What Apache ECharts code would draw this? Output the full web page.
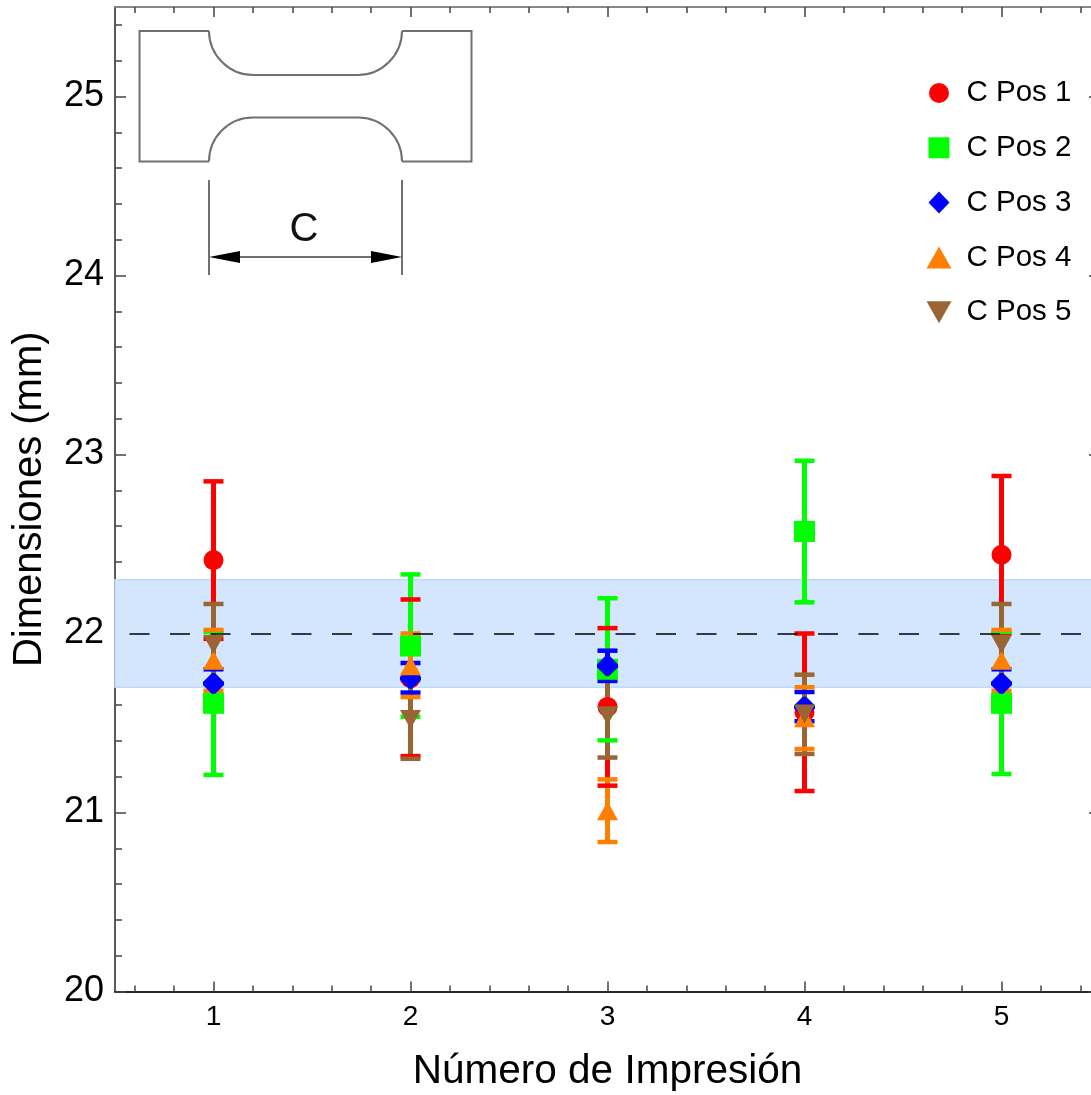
<!DOCTYPE html>
<html>
<head>
<meta charset="utf-8">
<style>
  html, body { margin: 0; padding: 0; background: #fff; overflow: hidden; }
  #chart { width: 1091px; height: 1095px; }
</style>
<script src="https://cdn.jsdelivr.net/npm/echarts@6/dist/echarts.min.js"></script>
</head>
<body>
<div id="chart"></div>
<script>
const prints = [1, 2, 3, 4, 5];
const names = ['C Pos 1', 'C Pos 2', 'C Pos 3', 'C Pos 4', 'C Pos 5'];
const colors = ['#ff0000', '#00ff00', '#0000ff', '#ff8000', '#996633'];

const pos1 = [22.41, 21.75, 21.59, 21.56, 22.44];
const pos1Low = [21.97, 21.315, 21.15, 21.12, 22.0];
const pos1High = [22.85, 22.19, 22.03, 22.0, 22.88];

const pos2 = [21.61, 21.93, 21.8, 22.57, 21.61];
const pos2Low = [21.21, 21.535, 21.403, 22.174, 21.215];
const pos2High = [22.01, 22.33, 22.197, 22.965, 22.01];

const pos3 = [21.72, 21.75, 21.82, 21.59, 21.72];
const pos3Low = [21.64, 21.67, 21.735, 21.51, 21.64];
const pos3High = [21.8, 21.835, 21.904, 21.673, 21.8];

const pos4 = [21.85, 21.82, 21.01, 21.53, 21.85];
const pos4Low = [21.68, 21.645, 20.835, 21.355, 21.68];
const pos4High = [22.02, 22.0, 21.185, 21.7, 22.02];

const pos5 = [21.94, 21.52, 21.54, 21.55, 21.94];
const pos5Low = [21.72, 21.3, 21.307, 21.327, 21.72];
const pos5High = [22.165, 21.74, 21.77, 21.77, 22.165];

const values = [pos1, pos2, pos3, pos4, pos5];
const lows = [pos1Low, pos2Low, pos3Low, pos4Low, pos5Low];
const highs = [pos1High, pos2High, pos3High, pos4High, pos5High];

const xMajorTicks = [1, 2, 3, 4, 5];
const xMinorTicks = [0.6, 0.8, 1.2, 1.4, 1.6, 1.8, 2.2, 2.4, 2.6, 2.8, 3.2, 3.4, 3.6, 3.8, 4.2, 4.4, 4.6, 4.8, 5.2, 5.4];
const yMajorTicks = [20, 21, 22, 23, 24, 25];
const yMinorTicks = [20.2, 20.4, 20.6, 20.8, 21.2, 21.4, 21.6, 21.8, 22.2, 22.4, 22.6, 22.8, 23.2, 23.4, 23.6, 23.8, 24.2, 24.4, 24.6, 24.8, 25.2, 25.4];

const toleranceBand = [21.7, 22.3];
const nominal = 22;

const FONT = '"Liberation Sans", Arial, sans-serif';
const CAP_HALF = 10;

const TRI_UP = 'path://M10.5 0L21 19L0 19Z';
const TRI_DOWN = 'path://M0 0L21 0L10.5 19Z';
const BLUNT_DIAMOND = 'path://M9 0L12 0L21 9L21 12L12 21L9 21L0 12L0 9Z';
const markers = ['circle', 'rect', BLUNT_DIAMOND, TRI_UP, TRI_DOWN];
const markerSizes = [20, 21, 21, [21, 19], [21, 19]];

// corners keep every legend icon in the same 25x22 box, so the sizes can differ
const BOX = 'M0 0L0 0M25 22L25 22';
const legendIcons = [
    'path://' + BOX + 'M2.5 11A10 10 0 1 1 22.5 11A10 10 0 1 1 2.5 11Z',
    'path://' + BOX + 'M2 0.5L23 0.5L23 21.5L2 21.5Z',
    'path://' + BOX + 'M12.5 0L23 11L12.5 22L2 11Z',
    'path://' + BOX + 'M12.5 0L25 22L0 22Z',
    'path://' + BOX + 'M0 0L25 0L12.5 22Z'
];

const axisLineStyle = (color) => ({ show: true, onZero: false, lineStyle: { color: color, width: 1.6 } });

function xAxis(position, ticks, length, extra) {
    return Object.assign({
        type: 'value', min: 0.5, max: 5.5, position: position, splitLine: { show: false },
        axisLine: axisLineStyle(position === 'bottom' ? '#1a1a1a' : '#808080'),
        axisTick: { show: true, inside: true, length: length, customValues: ticks, lineStyle: { color: '#444', width: 1.5 } },
        axisLabel: { show: false }
    }, extra);
}

function yAxis(position, ticks, length, extra) {
    return Object.assign({
        type: 'value', min: 20, max: 25.5, position: position, splitLine: { show: false },
        axisLine: axisLineStyle('#555'),
        axisTick: { show: true, inside: true, length: length, customValues: ticks, lineStyle: { color: '#444', width: 1.5 } },
        axisLabel: { show: false }
    }, extra);
}

function stemSeries(i) {
    return {
        type: 'custom', name: names[i], z: 3, silent: true,
        data: prints.map((p, k) => [p, lows[i][k], highs[i][k]]),
        renderItem: (params, api) => {
            const a = api.coord([api.value(0), api.value(1)]);
            const b = api.coord([api.value(0), api.value(2)]);
            return { type: 'line', shape: { x1: a[0], y1: a[1], x2: b[0], y2: b[1] },
                style: { stroke: colors[i], lineWidth: 5, fill: null } };
        }
    };
}

function capSeries(i) {
    return {
        type: 'custom', name: names[i], z: 4, silent: true,
        data: prints.map((p, k) => [p, lows[i][k], highs[i][k]]),
        renderItem: (params, api) => {
            const a = api.coord([api.value(0), api.value(1)]);
            const b = api.coord([api.value(0), api.value(2)]);
            const cap = (c) => ({ type: 'line', shape: { x1: c[0] - CAP_HALF, y1: c[1], x2: c[0] + CAP_HALF, y2: c[1] },
                style: { stroke: colors[i], lineWidth: 4.5, fill: null } });
            return { type: 'group', children: [cap(a), cap(b)] };
        }
    };
}

function pointSeries(i) {
    return {
        type: 'scatter', name: names[i], z: 5,
        data: prints.map((p, k) => [p, values[i][k]]),
        symbol: markers[i], symbolSize: markerSizes[i],
        itemStyle: { color: colors[i], opacity: 1 }
    };
}

const series = [{
    type: 'line', data: [], z: 1, silent: true,
    markArea: {
        silent: true,
        itemStyle: { color: '#d3e6fd', borderColor: '#bedafa', borderWidth: 1.5 },
        data: [[{ yAxis: toleranceBand[1] }, { yAxis: toleranceBand[0] }]]
    },
    markLine: {
        silent: true, symbol: 'none', label: { show: false }, animation: false,
        lineStyle: { color: '#000', width: 1.5, type: [20, 20.5], dashOffset: 26 },
        data: [{ yAxis: nominal }]
    }
}];
names.forEach((n, i) => series.push(stemSeries(i)));
names.forEach((n, i) => series.push(capSeries(i)));
names.forEach((n, i) => series.push(pointSeries(i)));

const inkStyle = { stroke: '#707070', lineWidth: 2, fill: null };
const inkLine = (x1, y1, x2, y2) => ({ type: 'line', z: 6, shape: { x1, y1, x2, y2 }, style: inkStyle });
const inkCurve = (x1, y1, cpx1, cpy1, cpx2, cpy2, x2, y2) => ({ type: 'bezierCurve', z: 6, shape: { x1, y1, cpx1, cpy1, cpx2, cpy2, x2, y2 }, style: inkStyle });

const option = {
    animation: false,
    backgroundColor: '#fff',
    grid: { left: 115, top: 7, width: 985, height: 984.5, containLabel: false, outerBoundsMode: 'none' },
    xAxis: [
        xAxis('bottom', xMajorTicks, 10, {
            axisLabel: { show: true, customValues: xMajorTicks, margin: 12, color: '#000', fontSize: 28, fontFamily: FONT },
            name: 'Número de Impresión', nameLocation: 'middle', nameGap: 60,
            nameTextStyle: { color: '#000', fontSize: 40.5, fontFamily: FONT }
        }),
        xAxis('bottom', xMinorTicks, 6),
        xAxis('top', xMajorTicks, 10),
        xAxis('top', xMinorTicks, 6)
    ],
    yAxis: [
        yAxis('left', yMajorTicks, 11, {
            axisLabel: { show: true, customValues: yMajorTicks, margin: 11, color: '#000', fontSize: 36, fontFamily: FONT, padding: [5, 0, 0, 0] },
            name: 'Dimensiones (mm)', nameLocation: 'middle', nameGap: 65,
            nameTextStyle: { color: '#000', fontSize: 40, fontFamily: FONT }
        }),
        yAxis('left', yMinorTicks, 7),
        yAxis('right', yMajorTicks, 11),
        yAxis('right', yMinorTicks, 7)
    ],
    legend: {
        orient: 'vertical', left: 921.5, top: 73, itemWidth: 25, itemHeight: 22, itemGap: 24.8,
        selectedMode: false,
        textStyle: { color: '#000', fontSize: 29.5, fontFamily: FONT, padding: [0, 0, 0, 10] },
        data: names.map((n, i) => ({ name: n, icon: legendIcons[i], itemStyle: { color: colors[i] } }))
    },
    // drawing of the test piece, pasted as a picture in the original
    graphic: [
        { type: 'polyline', z: 6, shape: { points: [[209, 31], [139.5, 31], [139.5, 161.5], [209, 161.5]] }, style: inkStyle },
        { type: 'polyline', z: 6, shape: { points: [[402, 31], [471.5, 31], [471.5, 161.5], [402, 161.5]] }, style: inkStyle },
        inkCurve(209, 31, 209, 55, 229, 75, 253, 75),
        inkLine(253, 75, 358, 75),
        inkCurve(358, 75, 382, 75, 402, 55, 402, 31),
        inkCurve(209, 161.5, 209, 137, 229, 117.5, 253, 117.5),
        inkLine(253, 117.5, 358, 117.5),
        inkCurve(358, 117.5, 382, 117.5, 402, 137, 402, 161.5),
        inkLine(209, 180, 209, 275),
        inkLine(402, 180, 402, 275),
        inkLine(240, 257, 371, 257),
        { type: 'polygon', z: 6, shape: { points: [[209, 257], [240, 251], [240, 263]] }, style: { fill: '#000' } },
        { type: 'polygon', z: 6, shape: { points: [[402, 257], [371, 251], [371, 263]] }, style: { fill: '#000' } },
        { type: 'text', z: 6, x: 304, y: 230, style: { text: 'C', fill: '#111', fontSize: 40, fontFamily: FONT, align: 'center', verticalAlign: 'middle' } }
    ],
    series: series
};

const chart = echarts.init(document.getElementById('chart'));
chart.setOption(option);
</script>
</body>
</html>
